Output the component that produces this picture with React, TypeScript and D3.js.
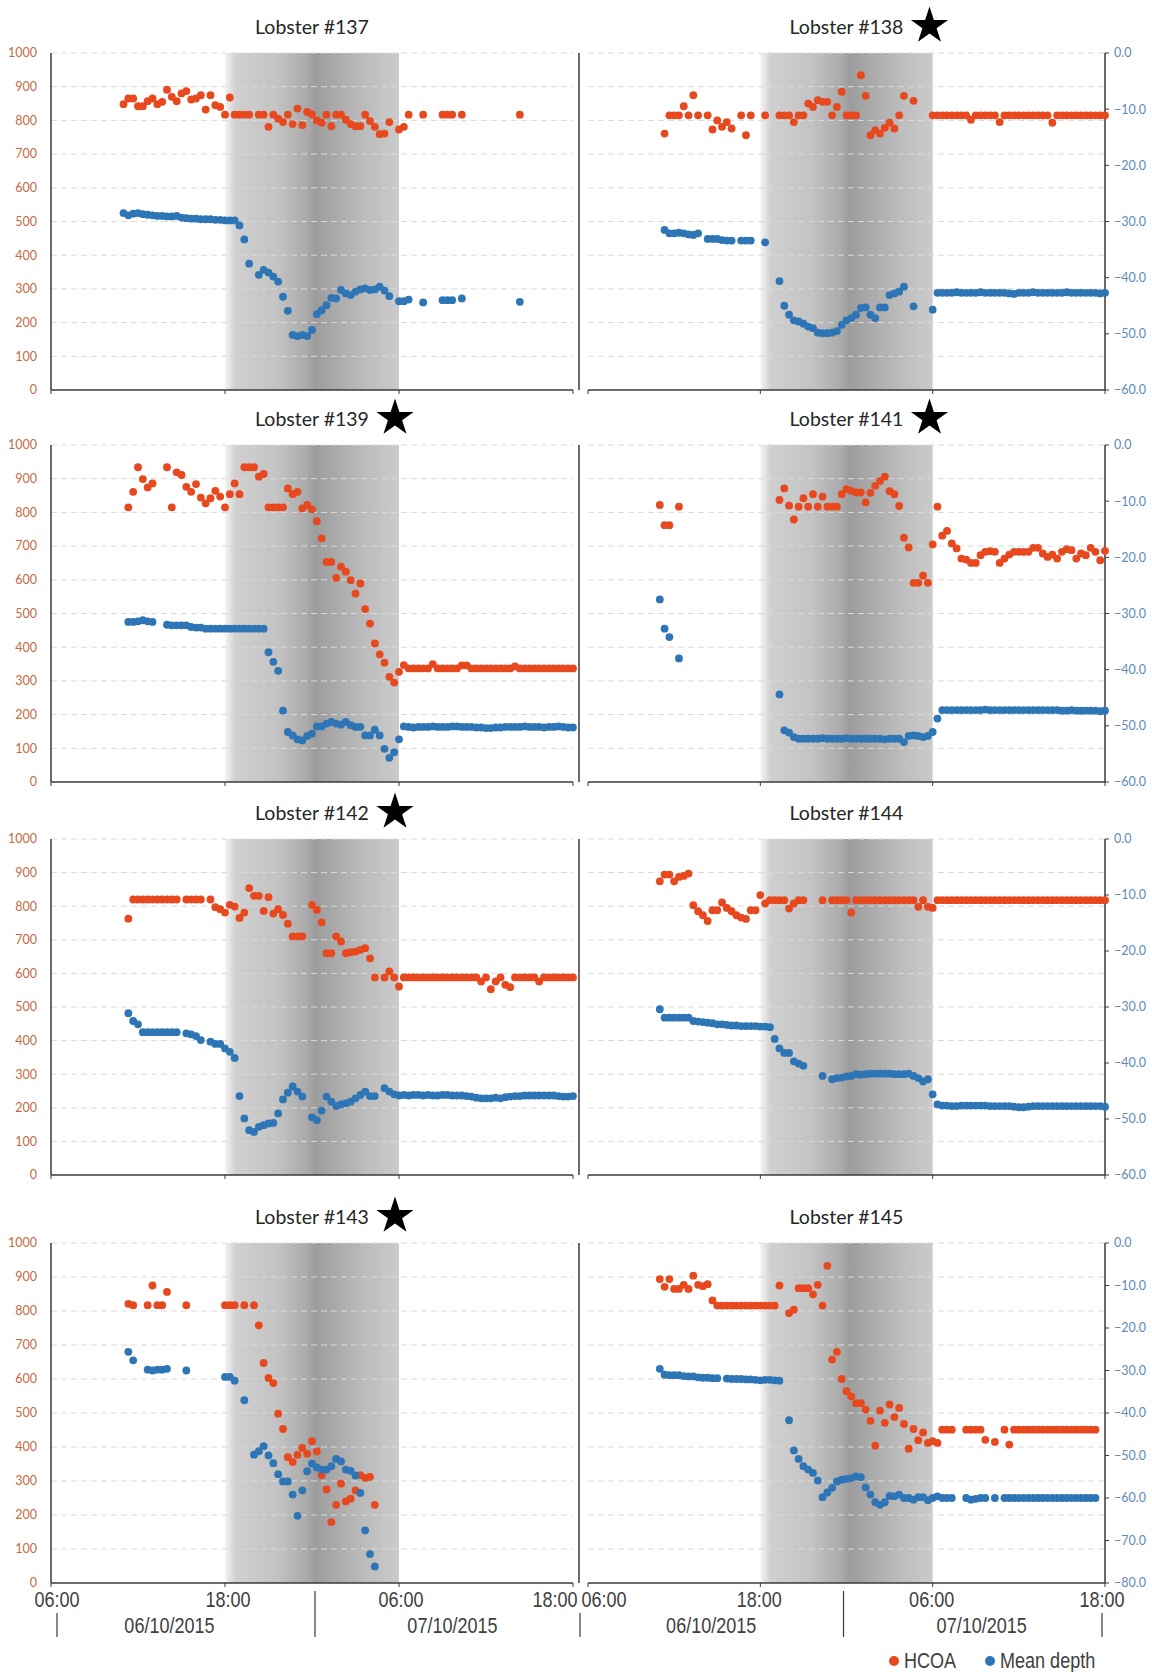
import React from 'react';
import * as d3 from 'd3';

// time window of every panel
const T_START = new Date(2015, 9, 6, 6, 0);
const T_END = new Date(2015, 9, 7, 18, 0);
const NIGHT_START = new Date(2015, 9, 6, 18, 0);
const NIGHT_END = new Date(2015, 9, 7, 6, 0);
const MIDNIGHT = new Date(2015, 9, 7, 0, 0);
const SAMPLE_MIN = 20; // logger interval

const timeTicks = [T_START, NIGHT_START, NIGHT_END, T_END];
const hcoaTicks = [0, 100, 200, 300, 400, 500, 600, 700, 800, 900, 1000];
const depthTicks60 = [0, -10, -20, -30, -40, -50, -60];
const depthTicks80 = [0, -10, -20, -30, -40, -50, -60, -70, -80];
const dateLabels = ['06/10/2015', '07/10/2015'];

// ---- Lobster #137 (first sample 11:00)
const hcoa137 = [848, 865, 865, 842, 842, 857, 865, 848, 855, 891,
  870, 857, 880, 887, 862, 865, 875, 832, 875, 845,
  840, 817, 868, 817, 817, 817, 817, null, 817, 817,
  781, 817, 805, 795, 817, 789, 835, 786, 825, 818,
  800, 793, 817, 783, 817, 817, 802, 789, 783, 783,
  817, 798, 781, 759, 761, 795, null, 773, 781, 817,
  null, null, 817, null, null, null, 817, 817, 817, null,
  817, null, null, null, null, null, null, null, null, null,
  null, null, 817];
const depth137 = [-28.5, -28.9, -28.6, -28.5, -28.7, -28.8, -28.9, -29.0, -29.0, -29.1,
  -29.1, -29.0, -29.3, -29.4, -29.5, -29.5, -29.6, -29.6, -29.6, -29.7,
  -29.7, -29.8, -29.8, -29.8, -30.7, -33.2, -37.5, null, -39.5, -38.6,
  -39.1, -39.8, -40.7, -43.4, -45.9, -50.2, -50.4, -50.2, -50.4, -49.3,
  -46.5, -45.8, -44.9, -43.6, -43.7, -42.2, -42.8, -43.1, -42.5, -42.1,
  -41.9, -42.2, -42.1, -41.6, -42.3, -43.3, null, -44.2, -44.2, -43.9,
  null, null, -44.4, null, null, null, -44.0, -44.0, -44.0, null,
  -43.7, null, null, null, null, null, null, null, null, null,
  null, null, -44.3];

// ---- Lobster #138 (first sample 11:20)
const hcoa138 = [761, 815, 815, 815, 842, 815, 875, 815, null, 815,
  773, 800, 781, 795, 776, null, 815, 756, 815, null,
  null, 815, null, null, 815, 815, 815, 795, 815, 815,
  850, 840, 860, 855, 855, 815, 840, 885, 815, 815,
  815, 934, 873, 756, 771, 761, 778, 793, 776, 815,
  873, null, 858, null, null, null, 815, 815, 815, 815,
  815, 815, 815, 815, 802, 815, 815, 815, 815, 815,
  795, 815, 815, 815, 815, 815, 815, 815, 815, 815,
  815, 793, 815, 815, 815, 815, 815, 815, 815, 815,
  815, 815, 815];
const depth138 = [-31.5, -32.1, -32.1, -32.0, -32.1, -32.3, -32.4, -32.1, null, -33.1,
  -33.1, -33.1, -33.3, -33.4, -33.4, null, -33.4, -33.4, -33.4, null,
  null, -33.7, null, null, -40.6, -45.0, -46.6, -47.6, -47.8, -48.2,
  -48.7, -49.0, -49.8, -49.9, -49.9, -49.8, -49.5, -48.4, -47.6, -47.2,
  -46.6, -45.4, -45.3, -46.6, -47.2, -45.3, -45.3, -43.1, -42.8, -42.5,
  -41.6, null, -45.1, null, null, null, -45.7, -42.7, -42.7, -42.7,
  -42.7, -42.6, -42.7, -42.7, -42.7, -42.7, -42.6, -42.7, -42.7, -42.7,
  -42.7, -42.7, -42.8, -42.9, -42.7, -42.7, -42.7, -42.6, -42.7, -42.7,
  -42.7, -42.7, -42.7, -42.7, -42.6, -42.7, -42.7, -42.7, -42.7, -42.7,
  -42.7, -42.8, -42.7];

// ---- Lobster #139 (first sample 11:20)
const hcoa139 = [815, 861, 934, 899, 874, 886, null, null, 934, 815,
  919, 911, 876, 861, 884, 844, 827, 842, 864, 847,
  815, 854, 886, 854, 934, 934, 934, 906, 914, 815,
  815, 815, 815, 871, 854, 861, 812, 822, 809, 774,
  723, 653, 653, 606, 639, 624, 599, 559, 589, 513,
  470, 411, 379, 354, 312, 295, 327, 347, 337, 337,
  337, 337, 337, 350, 337, 337, 337, 337, 337, 346,
  346, 337, 337, 337, 337, 337, 337, 337, 337, 337,
  343, 337, 337, 337, 337, 337, 337, 337, 337, 337,
  337, 337, 337];
const depth139 = [-31.5, -31.5, -31.4, -31.2, -31.4, -31.5, null, null, -32.0, -32.1,
  -32.1, -32.1, -32.1, -32.4, -32.5, -32.5, -32.7, -32.7, -32.7, -32.7,
  -32.7, -32.7, -32.7, -32.7, -32.7, -32.7, -32.7, -32.7, -32.7, -36.9,
  -38.6, -40.2, -47.3, -51.1, -51.7, -52.4, -52.6, -51.8, -51.4, -50.1,
  -50.1, -49.6, -49.3, -49.6, -49.8, -49.3, -49.9, -50.2, -50.2, -51.7,
  -51.7, -50.7, -51.7, -54.1, -55.7, -54.7, -52.4, -50.1, -50.2, -50.3,
  -50.2, -50.2, -50.2, -50.1, -50.2, -50.2, -50.2, -50.1, -50.1, -50.2,
  -50.2, -50.2, -50.3, -50.3, -50.4, -50.4, -50.3, -50.3, -50.2, -50.2,
  -50.2, -50.2, -50.1, -50.2, -50.2, -50.2, -50.3, -50.2, -50.2, -50.1,
  -50.2, -50.3, -50.3];

// ---- Lobster #141 (first sample 11:00)
const hcoa141 = [822, 762, 762, null, 817, null, null, null, null, null,
  null, null, null, null, null, null, null, null, null, null,
  null, null, null, null, null, 837, 871, 820, 779, 817,
  842, 817, 854, 817, 847, 817, 817, 817, 854, 869,
  864, 859, 859, 830, 858, 879, 893, 906, 863, 854,
  819, 725, 696, 591, 591, 612, 591, 705, 817, 731,
  745, 708, 693, 663, 660, 650, 650, 673, 683, 685,
  683, 650, 663, 675, 683, 683, 683, 683, 695, 695,
  678, 668, 675, 663, 683, 691, 688, 663, 678, 673,
  695, 683, 658, 686];
const depth141 = [-27.5, -32.7, -34.2, null, -38.0, null, null, null, null, null,
  null, null, null, null, null, null, null, null, null, null,
  null, null, null, null, null, -44.4, -50.8, -51.2, -52.0, -52.3,
  -52.3, -52.3, -52.3, -52.3, -52.2, -52.3, -52.3, -52.3, -52.3, -52.2,
  -52.3, -52.3, -52.3, -52.3, -52.3, -52.3, -52.3, -52.4, -52.3, -52.3,
  -52.3, -52.9, -51.8, -51.7, -51.8, -52.0, -51.8, -51.1, -48.7, -47.2,
  -47.2, -47.2, -47.2, -47.2, -47.2, -47.2, -47.2, -47.2, -47.1, -47.2,
  -47.2, -47.2, -47.2, -47.2, -47.2, -47.2, -47.2, -47.2, -47.2, -47.2,
  -47.2, -47.2, -47.2, -47.2, -47.3, -47.3, -47.2, -47.3, -47.3, -47.3,
  -47.3, -47.3, -47.4, -47.3];

// ---- Lobster #142 (first sample 11:20)
const hcoa142 = [763, 820, 820, 820, 820, 820, 820, 820, 820, 820,
  820, null, 820, 820, 820, 820, null, 820, 797, 791,
  781, 804, 799, 765, 781, 854, 831, 831, 786, 827,
  778, 791, 774, 748, 710, 710, 710, null, 804, 789,
  752, 660, 660, 710, 695, 660, 663, 665, 670, 675,
  645, 588, null, 588, 606, 588, 561, 588, 588, 588,
  588, 588, 588, 588, 588, 588, 588, 588, 588, 588,
  588, 588, 588, 576, 588, 553, 576, 588, 566, 559,
  588, 588, 588, 588, 588, 576, 588, 588, 588, 588,
  588, 588, 588];
const depth142 = [-31.1, -32.5, -33.1, -34.5, -34.5, -34.5, -34.5, -34.5, -34.5, -34.5,
  -34.5, null, -34.7, -34.9, -35.2, -35.9, null, -36.2, -36.6, -36.6,
  -37.4, -38.0, -39.1, -45.9, -49.9, -52.0, -52.3, -51.4, -51.1, -50.8,
  -50.7, -49.0, -46.5, -45.3, -44.2, -45.1, -46.0, null, -49.7, -50.2,
  -48.5, -46.0, -46.9, -47.7, -47.4, -47.2, -46.9, -46.3, -45.7, -45.1,
  -45.9, -45.9, null, -44.5, -45.1, -45.6, -45.8, -45.7, -45.8, -45.7,
  -45.7, -45.8, -45.7, -45.8, -45.8, -45.7, -45.7, -45.8, -45.8, -45.8,
  -45.9, -46.0, -46.2, -46.3, -46.3, -46.3, -46.2, -46.3, -46.1, -46.0,
  -45.9, -45.9, -45.8, -45.8, -45.8, -45.8, -45.8, -45.8, -45.8, -45.9,
  -46.0, -46.0, -45.9];

// ---- Lobster #144 (first sample 11:00)
const hcoa144 = [874, 894, 894, 874, 887, 890, 897, 803, 785, 773,
  756, 788, 788, 811, 795, 785, 773, 766, 762, 788,
  788, 833, 808, 818, 818, 818, 818, 793, 808, 818,
  818, null, null, null, 818, null, 818, 818, 818, 818,
  781, 818, 818, 818, 818, 818, 818, 818, 818, 818,
  818, 818, 818, 818, 798, 818, 798, 795, 818, 818,
  818, 818, 818, 818, 818, 818, 818, 818, 818, 818,
  818, 818, 818, 818, 818, 818, 818, 818, 818, 818,
  818, 818, 818, 818, 818, 818, 818, 818, 818, 818,
  818, 818, 818, 818];
const depth144 = [-30.4, -31.9, -31.9, -31.9, -31.9, -31.9, -31.9, -32.5, -32.6, -32.7,
  -32.8, -32.9, -33.1, -33.1, -33.2, -33.3, -33.3, -33.4, -33.4, -33.4,
  -33.4, -33.5, -33.5, -33.6, -35.7, -37.4, -38.2, -38.2, -39.7, -40.1,
  -40.5, null, null, null, -42.3, null, -42.9, -42.7, -42.6, -42.4,
  -42.3, -42.0, -42.1, -42.0, -41.9, -41.9, -41.9, -41.9, -41.9, -42.0,
  -42.0, -42.0, -41.9, -42.3, -42.7, -43.3, -42.9, -45.6, -47.4, -47.6,
  -47.6, -47.7, -47.7, -47.6, -47.6, -47.6, -47.6, -47.6, -47.6, -47.7,
  -47.7, -47.7, -47.7, -47.7, -47.8, -47.9, -47.9, -47.8, -47.7, -47.7,
  -47.7, -47.7, -47.7, -47.7, -47.7, -47.7, -47.7, -47.7, -47.7, -47.7,
  -47.7, -47.7, -47.7, -47.8];

// ---- Lobster #143 (first sample 11:20)
const hcoa143 = [821, 817, null, null, 817, 875, 817, 817, 856, null,
  null, null, 817, null, null, null, null, null, null, null,
  817, 817, 817, null, 817, null, 817, 758, 647, 603,
  588, 498, 453, 370, 356, 377, 397, 380, 417, 387,
  317, 275, 179, 230, 292, 240, 248, 272, 317, 309,
  312, 230];
const depth143 = [-25.6, -27.6, null, null, -29.8, -30.0, -29.8, -29.8, -29.6, null,
  null, null, -30.0, null, null, null, null, null, null, null,
  -31.5, -31.5, -32.4, null, -37.0, null, -49.8, -49.0, -47.8, -50.0,
  -51.8, -54.4, -56.1, -56.1, -59.2, -64.2, -58.2, -53.7, -51.9, -52.8,
  -53.3, -53.3, -52.5, -50.8, -51.4, -53.3, -53.6, -54.7, -58.8, -67.6,
  -73.2, -76.1];

// ---- Lobster #145 (first sample 11:00)
const hcoa145 = [894, 871, 894, 865, 865, 877, 865, 904, 877, 873,
  879, 831, 816, 816, 816, 816, 816, 816, 816, 816,
  816, 816, 816, 816, 816, 875, null, 794, 804, 867,
  867, 867, 849, 877, 816, 933, 657, 680, 600, 564,
  549, 529, 529, 510, 477, 404, 507, 471, 525, 488,
  515, 468, 395, 453, 420, 443, 412, 417, 412, 451,
  451, 451, null, null, 451, 451, 451, 451, 421, null,
  415, null, 451, 407, 451, 451, 451, 451, 451, 451,
  451, 451, 451, 451, 451, 451, 451, 451, 451, 451,
  451, 451];
const depth145 = [-29.6, -31.0, -31.1, -31.1, -31.1, -31.3, -31.4, -31.4, -31.6, -31.7,
  -31.7, -31.8, -31.8, null, -31.9, -32.0, -32.0, -32.0, -32.1, -32.1,
  -32.2, -32.3, -32.2, -32.2, -32.3, -32.4, null, -41.7, -48.8, -50.8,
  -52.5, -53.3, -54.1, -55.9, -59.8, -58.7, -57.6, -56.1, -55.7, -55.5,
  -55.3, -54.9, -55.1, -57.5, -59.2, -61.0, -61.6, -61.0, -59.5, -59.6,
  -59.2, -60.0, -60.0, -60.4, -59.8, -59.8, -60.5, -60.0, -59.6, -60.0,
  -60.0, -60.0, null, null, -60.0, -60.4, -60.2, -60.0, -60.0, null,
  -60.0, null, -60.0, -60.0, -60.0, -60.0, -60.0, -60.0, -60.0, -60.0,
  -60.0, -60.0, -60.0, -60.0, -60.0, -60.0, -60.0, -60.0, -60.0, -60.0,
  -60.0, -60.0];

const lobsters = [
  { name: 'Lobster #137', star: false, col: 0, row: 0, start: new Date(2015, 9, 6, 11, 0), hcoa: hcoa137, depth: depth137 },
  { name: 'Lobster #138', star: true, col: 1, row: 0, start: new Date(2015, 9, 6, 11, 20), hcoa: hcoa138, depth: depth138 },
  { name: 'Lobster #139', star: true, col: 0, row: 1, start: new Date(2015, 9, 6, 11, 20), hcoa: hcoa139, depth: depth139 },
  { name: 'Lobster #141', star: true, col: 1, row: 1, start: new Date(2015, 9, 6, 11, 0), hcoa: hcoa141, depth: depth141 },
  { name: 'Lobster #142', star: true, col: 0, row: 2, start: new Date(2015, 9, 6, 11, 20), hcoa: hcoa142, depth: depth142 },
  { name: 'Lobster #144', star: false, col: 1, row: 2, start: new Date(2015, 9, 6, 11, 0), hcoa: hcoa144, depth: depth144 },
  { name: 'Lobster #143', star: true, col: 0, row: 3, start: new Date(2015, 9, 6, 11, 20), hcoa: hcoa143, depth: depth143 },
  { name: 'Lobster #145', star: false, col: 1, row: 3, start: new Date(2015, 9, 6, 11, 0), hcoa: hcoa145, depth: depth145 },
];

const RED = '#e8481e';
const BLUE = '#2e75b6';
const AXIS = '#3a3a3a';
const COLS = [{ x0: 51, x1: 573 }, { x0: 588, x1: 1105 }];
const ROWS = [
  { top: 53, bottom: 390, dmin: -60 },
  { top: 445, bottom: 782, dmin: -60 },
  { top: 839, bottom: 1175, dmin: -60 },
  { top: 1243, bottom: 1583, dmin: -80 },
];
const DIVIDER_X = 579;
const TITLE_FONT = "Lato, 'Open Sans', sans-serif";
const NARROW_FONT = "'Liberation Sans', Arial, sans-serif";
const NARROW = 0.82; // horizontal squeeze to mimic a narrow face

const starPath = d3.symbol(d3.symbolStar).size(430)();

function toPoints(start, values) {
  return values
    .map((v, i) => (v == null ? null : { t: d3.timeMinute.offset(start, i * SAMPLE_MIN), v }))
    .filter(Boolean);
}

function NarrowText({ x, y, anchor = 'middle', children }) {
  return (
    <text transform={`translate(${x},${y}) scale(${NARROW},1)`} textAnchor={anchor}>{children}</text>
  );
}

function Panel({ p }) {
  const c = COLS[p.col];
  const r = ROWS[p.row];
  const x = d3.scaleTime().domain([T_START, T_END]).range([c.x0, c.x1]);
  const yH = d3.scaleLinear().domain([0, 1000]).range([r.bottom, r.top]);
  const yD = d3.scaleLinear().domain([r.dmin, 0]).range([r.bottom, r.top]);
  const depthTicks = r.dmin === -80 ? depthTicks80 : depthTicks60;
  const cx = (c.x0 + c.x1) / 2;
  const redPts = toPoints(p.start, p.hcoa);
  const bluePts = toPoints(p.start, p.depth);
  const midX = x(MIDNIGHT) + (p.col === 0 ? 3 : -3);

  return (
    <g>
      <rect x={x(NIGHT_START)} y={r.top} width={x(NIGHT_END) - x(NIGHT_START)} height={r.bottom - r.top} fill="url(#night)" />
      {hcoaTicks.slice(1).map((t) => (
        <line key={t} x1={c.x0} x2={c.x1} y1={yH(t)} y2={yH(t)} stroke="#dadada" strokeWidth={1} strokeDasharray="6,4" />
      ))}
      <line x1={c.x0} x2={c.x1} y1={r.bottom} y2={r.bottom} stroke={AXIS} strokeWidth={1.5} />
      {timeTicks.map((t, i) => (
        <line key={i} x1={x(t)} x2={x(t)} y1={r.bottom} y2={r.bottom + 4} stroke={AXIS} strokeWidth={1} />
      ))}
      {p.col === 0 && (
        <g>
          <line x1={c.x0} x2={c.x0} y1={r.top} y2={r.bottom} stroke={AXIS} strokeWidth={1.5} />
          {hcoaTicks.map((t) => (
            <text key={t} x={37} y={yH(t)} dy="0.35em" textAnchor="end" fontSize={12.5} fill="#c66a43" fontFamily={TITLE_FONT}>{t}</text>
          ))}
        </g>
      )}
      {p.col === 1 && (
        <g>
          <line x1={c.x1} x2={c.x1} y1={r.top} y2={r.bottom} stroke={AXIS} strokeWidth={1.5} />
          {depthTicks.map((t) => (
            <g key={t}>
              <line x1={c.x1} x2={c.x1 + 4} y1={yD(t)} y2={yD(t)} stroke={AXIS} strokeWidth={1} />
              <text x={1114} y={yD(t)} dy="0.35em" fontSize={12.5} fill="#5e8ab8" fontFamily={TITLE_FONT}>{d3.format('.1f')(t)}</text>
            </g>
          ))}
        </g>
      )}
      {redPts.map((d, i) => (
        <circle key={'h' + i} cx={x(d.t)} cy={yH(d.v)} r={3.9} fill={RED} />
      ))}
      {bluePts.map((d, i) => (
        <circle key={'d' + i} cx={x(d.t)} cy={yD(d.v)} r={3.9} fill={BLUE} />
      ))}
      <text x={cx} y={r.top - 19} textAnchor="middle" fontSize={19.5} fill="#262626" fontFamily={TITLE_FONT}>{p.name}</text>
      {p.star && <path d={starPath} transform={`translate(${cx + 83},${r.top - 27})`} fill="#000" />}
      {p.row === 3 && (
        <g fontFamily={NARROW_FONT} fontSize={22} fill="#404040">
          {timeTicks.map((t, i) => {
            const shift = p.col === 0 ? [6, 3, 2, -18][i] : [16, -1, -1, -3][i];
            return <NarrowText key={i} x={x(t) + shift} y={1607}>{d3.timeFormat('%H:%M')(t)}</NarrowText>;
          })}
          <NarrowText x={(x(T_START) + x(MIDNIGHT)) / 2 + (p.col === 0 ? -12 : -6)} y={1633}>{dateLabels[0]}</NarrowText>
          <NarrowText x={(x(MIDNIGHT) + x(T_END)) / 2 + (p.col === 0 ? 10 : 6)} y={1633}>{dateLabels[1]}</NarrowText>
          <line x1={midX} x2={midX} y1={1591} y2={1637} stroke={AXIS} strokeWidth={1.2} />
          {p.col === 0 && <line x1={x(T_START) + 6} x2={x(T_START) + 6} y1={1613} y2={1637} stroke={AXIS} strokeWidth={1.2} />}
          <line x1={p.col === 0 ? DIVIDER_X + 1 : x(T_END) - 3} x2={p.col === 0 ? DIVIDER_X + 1 : x(T_END) - 3} y1={1613} y2={1637} stroke={AXIS} strokeWidth={1.2} />
        </g>
      )}
    </g>
  );
}

export default function App() {
  return (
    <svg width={1152} height={1672} style={{ position: 'absolute', left: 0, top: 0, background: '#fff' }}>
      <defs>
        <linearGradient id="night" x1="0" x2="1" y1="0" y2="0">
          <stop offset="0" stopColor="#f4f4f4" />
          <stop offset="0.06" stopColor="#d0d0d0" />
          <stop offset="0.3" stopColor="#c3c3c3" />
          <stop offset="0.47" stopColor="#aaaaaa" />
          <stop offset="0.52" stopColor="#9c9c9c" />
          <stop offset="0.62" stopColor="#a8a8a8" />
          <stop offset="0.82" stopColor="#bdbdbd" />
          <stop offset="1" stopColor="#cbcbcb" />
        </linearGradient>
      </defs>
      {ROWS.map((r, i) => (
        <line key={i} x1={DIVIDER_X} x2={DIVIDER_X} y1={r.top} y2={r.bottom} stroke={AXIS} strokeWidth={1.5} />
      ))}
      {lobsters.map((p) => (
        <Panel key={p.name} p={p} />
      ))}
      <g fontFamily={NARROW_FONT} fontSize={22} fill="#404040">
        <circle cx={894} cy={1661} r={5} fill={RED} />
        <NarrowText x={904} y={1668} anchor="start">HCOA</NarrowText>
        <circle cx={990} cy={1661} r={5} fill={BLUE} />
        <NarrowText x={1000} y={1668} anchor="start">Mean depth</NarrowText>
      </g>
    </svg>
  );
}
